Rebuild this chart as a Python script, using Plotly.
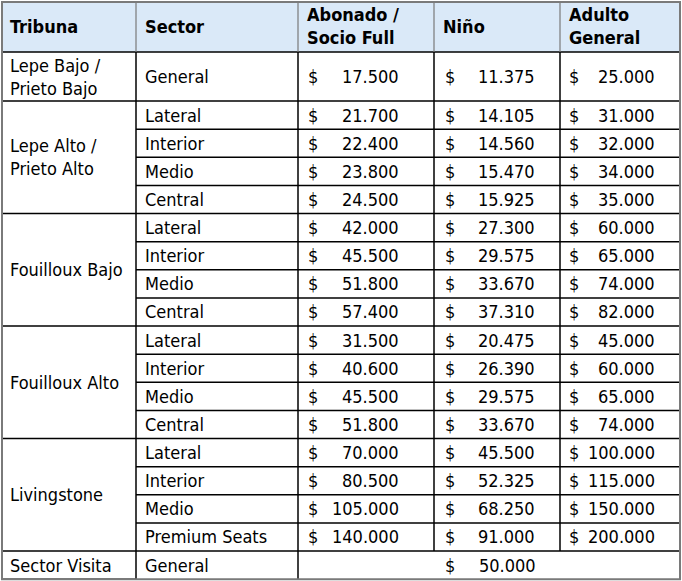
import plotly.graph_objects as go

# table content
headers = ["Tribuna", "Sector", "Abonado /<br>Socio Full", "Niño", "Adulto<br>General"]
tribunas = ["Lepe Bajo /<br>Prieto Bajo", "Lepe Alto /<br>Prieto Alto", "Fouilloux Bajo",
            "Fouilloux Alto", "Livingstone", "Sector Visita"]
group_sizes = [1, 4, 4, 4, 4, 1]
sectors = ["General",
           "Lateral", "Interior", "Medio", "Central",
           "Lateral", "Interior", "Medio", "Central",
           "Lateral", "Interior", "Medio", "Central",
           "Lateral", "Interior", "Medio", "Premium Seats",
           "General"]
abonado = [17500, 21700, 22400, 23800, 24500, 42000, 45500, 51800, 57400,
           31500, 40600, 45500, 51800, 70000, 80500, 105000, 140000]
nino = [11375, 14105, 14560, 15470, 15925, 27300, 29575, 33670, 37310,
        20475, 26390, 29575, 33670, 45500, 52325, 68250, 91000]
adulto = [25000, 31000, 32000, 34000, 35000, 60000, 65000, 74000, 82000,
          45000, 60000, 65000, 74000, 100000, 115000, 150000, 200000]
visita_precio = 50000

# layout (pixels)
W, H = 682, 581
col_x = [2, 136, 298, 434, 560, 680]
header_h = 50
first_h = 49
row_h = 28.125
top = 2
FONT = "DejaVu Sans Condensed, Roboto, sans-serif"
FS = 18
header_fill = "#dae9f8"
line_col = "black"
border_col = "#7a7a7a"

# y edges of body rows
row_edges = [top + header_h]
for i in range(len(sectors)):
    row_edges.append(row_edges[-1] + (first_h if i == 0 else row_h))
bottom = row_edges[-1]


def money(v):
    return f"{v:,}".replace(",", ".")


shapes = []
annotations = []


def line(x0, y0, x1, y1, color=line_col, width=1.5):
    shapes.append(dict(type="line", xref="x", yref="y", x0=x0, y0=y0, x1=x1, y1=y1,
                       line=dict(color=color, width=width), layer="above"))


def text(x, y, s, anchor="left", bold=False):
    annotations.append(dict(x=x, y=y, xref="x", yref="y", text=f"<b>{s}</b>" if bold else s,
                            showarrow=False, xanchor=anchor, yanchor="middle", align="left",
                            font=dict(family=FONT, size=FS, color="black")))


# header background
shapes.append(dict(type="rect", xref="x", yref="y", x0=col_x[0], x1=col_x[-1], y0=top,
                   y1=top + header_h, fillcolor=header_fill, line=dict(width=0), layer="below"))

# header text
hx = [8, 143, 305, 441, 567]
for x, h in zip(hx, headers):
    text(x, top + header_h / 2 - 1, h, bold=True)
line(col_x[0], top + header_h, col_x[-1], top + header_h)

# body: sector and prices
dollar_x = [306, 443, 567]
num_right = [401, 537, 657]
n_priced = len(abonado)
for i, sec in enumerate(sectors):
    yc = (row_edges[i] + row_edges[i + 1]) / 2
    text(143, yc, sec)
    if i < n_priced:
        for j, vals in enumerate([abonado, nino, adulto]):
            text(dollar_x[j], yc, "$")
            text(num_right[j], yc, money(vals[i]), anchor="right")
        line(col_x[1], row_edges[i + 1], col_x[-1], row_edges[i + 1])
    else:
        text(dollar_x[1], yc, "$")
        text(num_right[1] + 1, yc, money(visita_precio), anchor="right")

# tribuna column (merged cells)
start = 0
for name, n in zip(tribunas, group_sizes):
    y0, y1 = row_edges[start], row_edges[start + n]
    text(8, (y0 + y1) / 2, name)
    line(col_x[0], y1, col_x[1], y1)
    start += n

# vertical lines
for k, x in enumerate(col_x[1:-1], start=1):
    y_end = bottom if k <= 2 else row_edges[n_priced]
    line(x, top + header_h, x, y_end)
    line(x, top, x, top + header_h, color=border_col, width=1.2)

# outer border
shapes.append(dict(type="rect", xref="x", yref="y", x0=col_x[0], x1=col_x[-1], y0=top, y1=bottom,
                   line=dict(color=border_col, width=2), layer="above"))

fig = go.Figure()
fig.update_layout(
    width=W, height=H, margin=dict(l=0, r=0, t=0, b=0),
    paper_bgcolor="white", plot_bgcolor="white",
    shapes=shapes, annotations=annotations, showlegend=False,
)
fig.update_xaxes(range=[0, W], visible=False, fixedrange=True)
fig.update_yaxes(range=[H, 0], visible=False, fixedrange=True)

# drop the default 8px page margin so the figure fills the window
fig.write_html("out.html", config={"displayModeBar": False},
               post_script="document.body.style.margin='0';document.body.style.overflow='hidden';")
